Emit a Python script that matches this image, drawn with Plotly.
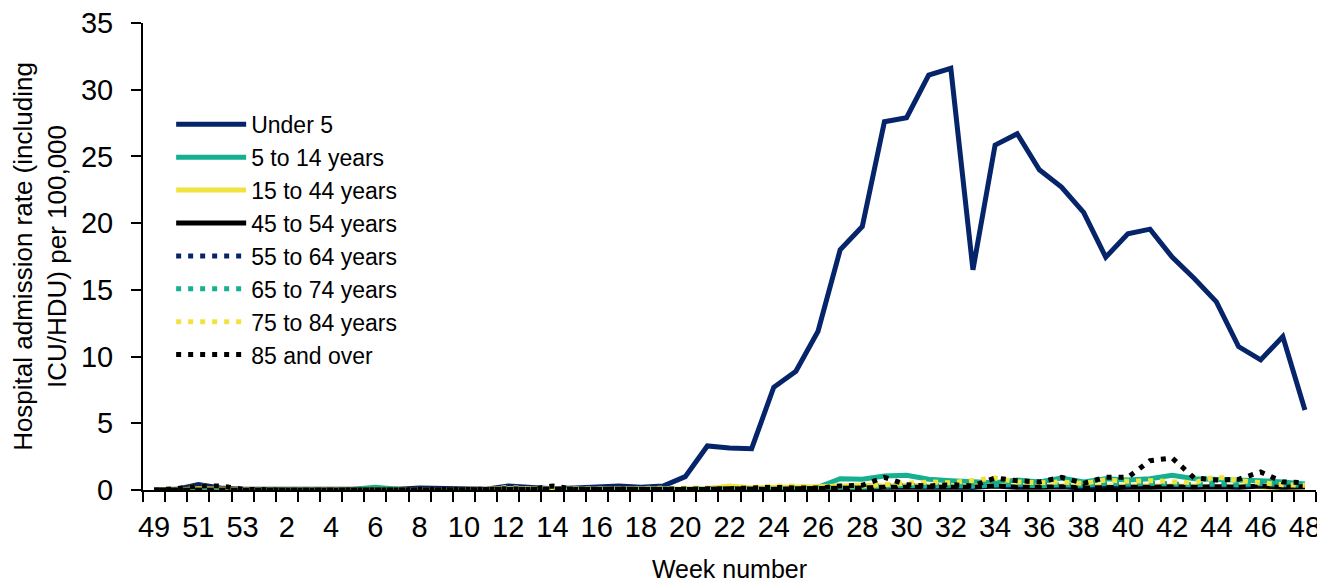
import plotly.graph_objects as go

weeks = ["49", "50", "51", "52", "53", "1", "2", "3", "4", "5", "6", "7", "8", "9", "10",
         "11", "12", "13", "14", "15", "16", "17", "18", "19", "20",
         "21", "22", "23", "24", "25", "26", "27", "28", "29", "30",
         "31", "32", "33", "34", "35", "36", "37", "38", "39", "40",
         "41", "42", "43", "44", "45", "46", "47", "48"]

under_5 = [0.0, 0.05, 0.4, 0.15, 0.05,
           0.05, 0.05, 0.05, 0.05, 0.05, 0.05, 0.05, 0.15, 0.1, 0.05,
           0.05, 0.3, 0.2, 0.1, 0.15, 0.2, 0.3, 0.2, 0.3, 1.0,
           3.3, 3.15, 3.1, 7.7, 8.9, 11.9, 18.0, 19.75, 27.6, 27.9,
           31.1, 31.6, 16.5, 25.85, 26.7, 24.0, 22.7, 20.8, 17.45, 19.2,
           19.55, 17.45, 15.85, 14.1, 10.75, 9.75, 11.5, 6.0]

age_5_14 = [0.0, 0.0, 0.05, 0.05, 0.0,
            0.0, 0.0, 0.0, 0.0, 0.05, 0.2, 0.05, 0.0, 0.0, 0.0,
            0.0, 0.05, 0.05, 0.05, 0.05, 0.05, 0.05, 0.05, 0.05, 0.05,
            0.1, 0.2, 0.1, 0.1, 0.15, 0.2, 0.85, 0.8, 1.05, 1.1,
            0.8, 0.7, 0.6, 0.55, 0.75, 0.6, 0.9, 0.6, 0.85, 0.75,
            0.85, 1.1, 0.85, 0.8, 0.8, 0.7, 0.6, 0.45]

age_15_44 = [0.0, 0.0, 0.1, 0.05, 0.0,
             0.0, 0.0, 0.0, 0.0, 0.0, 0.0, 0.0, 0.0, 0.0, 0.05,
             0.05, 0.1, 0.05, 0.05, 0.05, 0.05, 0.05, 0.05, 0.05, 0.1,
             0.1, 0.3, 0.15, 0.2, 0.2, 0.25, 0.3, 0.35, 0.3, 0.35,
             0.3, 0.3, 0.3, 0.35, 0.3, 0.3, 0.35, 0.3, 0.3, 0.3,
             0.35, 0.3, 0.3, 0.25, 0.3, 0.25, 0.1, 0.05]

age_45_54 = [0.0, 0.0, 0.05, 0.05, 0.0,
             0.0, 0.0, 0.0, 0.0, 0.0, 0.0, 0.0, 0.0, 0.0, 0.0,
             0.0, 0.05, 0.0, 0.0, 0.0, 0.0, 0.05, 0.0, 0.0, 0.05,
             0.05, 0.1, 0.05, 0.05, 0.1, 0.1, 0.1, 0.15, 0.2, 0.2,
             0.2, 0.15, 0.2, 0.3, 0.2, 0.2, 0.25, 0.15, 0.2, 0.2,
             0.2, 0.25, 0.2, 0.25, 0.2, 0.3, 0.2, 0.25]

age_55_64 = [0.0, 0.0, 0.05, 0.05, 0.0,
             0.0, 0.0, 0.0, 0.0, 0.0, 0.0, 0.0, 0.0, 0.0, 0.0,
             0.0, 0.05, 0.05, 0.05, 0.0, 0.05, 0.05, 0.0, 0.05, 0.05,
             0.1, 0.05, 0.1, 0.1, 0.1, 0.15, 0.15, 0.2, 0.25, 0.3,
             0.25, 0.3, 0.2, 0.35, 0.3, 0.35, 0.3, 0.25, 0.4, 0.35,
             0.5, 0.4, 0.35, 0.4, 0.3, 0.4, 0.35, 0.3]

age_65_74 = [0.0, 0.0, 0.05, 0.05, 0.0,
             0.0, 0.0, 0.0, 0.0, 0.0, 0.1, 0.05, 0.0, 0.0, 0.0,
             0.0, 0.05, 0.05, 0.05, 0.05, 0.05, 0.05, 0.05, 0.05, 0.05,
             0.05, 0.1, 0.1, 0.15, 0.1, 0.15, 0.2, 0.2, 0.3, 0.35,
             0.3, 0.35, 0.3, 0.4, 0.45, 0.3, 0.4, 0.35, 0.5, 0.45,
             0.5, 0.45, 0.4, 0.45, 0.4, 0.5, 0.4, 0.35]

age_75_84 = [0.0, 0.05, 0.3, 0.25, 0.0,
             0.0, 0.0, 0.0, 0.0, 0.0, 0.0, 0.0, 0.0, 0.0, 0.0,
             0.05, 0.2, 0.1, 0.2, 0.1, 0.1, 0.1, 0.1, 0.1, 0.1,
             0.15, 0.2, 0.2, 0.3, 0.3, 0.2, 0.3, 0.3, 0.4, 0.5,
             0.6, 0.55, 0.75, 0.9, 0.6, 0.55, 0.6, 0.5, 0.75, 0.65,
             0.7, 0.6, 0.55, 1.0, 0.7, 0.55, 0.4, 0.35]

age_85_over = [0.0, 0.1, 0.3, 0.3, 0.05,
               0.0, 0.0, 0.0, 0.0, 0.0, 0.0, 0.0, 0.0, 0.0, 0.0,
               0.05, 0.1, 0.05, 0.3, 0.05, 0.05, 0.1, 0.05, 0.05, 0.1,
               0.1, 0.1, 0.15, 0.2, 0.15, 0.15, 0.3, 0.35, 0.95, 0.4,
               0.3, 0.4, 0.3, 0.9, 0.7, 0.6, 0.95, 0.5, 0.95, 0.95,
               2.2, 2.4, 0.9, 0.75, 0.8, 1.35, 0.6, 0.55]

series_names = ["Under 5", "5 to 14 years", "15 to 44 years", "45 to 54 years",
                "55 to 64 years", "65 to 74 years", "75 to 84 years", "85 and over"]
series_values = [under_5, age_5_14, age_15_44, age_45_54,
                 age_55_64, age_65_74, age_75_84, age_85_over]

NAVY = "#06246A"
TEAL = "#14B08F"
YELLOW = "#F1E33F"
BLACK = "#000000"
colors = [NAVY, TEAL, YELLOW, BLACK, NAVY, TEAL, YELLOW, BLACK]
dashes = ["solid"] * 4 + ["5px,7px"] * 4
widths = [5, 5, 5, 5, 5, 5, 5, 5]

FONT = "Arial, 'Liberation Sans', sans-serif"

fig = go.Figure()
for name, vals, c, d, w in zip(series_names, series_values, colors, dashes, widths):
    fig.add_trace(go.Scatter(x=weeks, y=vals, mode="lines", name=name,
                             line=dict(color=c, width=w, dash=d)))

ticktext = [w if i % 2 == 0 else "" for i, w in enumerate(weeks)]

# The page body adds an 8px margin, so the figure is 8px smaller than the window.
fig.update_layout(
    template="none",
    width=1317, height=575,
    margin=dict(l=135, r=9, t=15, b=93, autoexpand=False),
    paper_bgcolor="white", plot_bgcolor="white",
    font=dict(family=FONT, color="black", size=26),
    showlegend=True,
    legend=dict(x=0.024, y=0.829, xanchor="left", yanchor="top",
                font=dict(size=23, color="black"), bgcolor="rgba(0,0,0,0)",
                itemwidth=70, tracegroupgap=0, borderwidth=0),
    xaxis=dict(type="category", tickmode="array", tickvals=weeks, ticktext=ticktext,
               range=[-0.5, len(weeks) - 0.5],
               tickson="boundaries", ticks="outside", ticklen=10, tickwidth=2,
               tickcolor="black", showline=True, linecolor="black", linewidth=2,
               showgrid=False, zeroline=False, tickangle=0, automargin=False,
               ticklabelstandoff=10, ticklabeloverflow="allow", tickfont=dict(size=29),
               title=dict(text="Week number", font=dict(size=25), standoff=21)),
    yaxis=dict(range=[0, 35], dtick=5, tick0=0, ticks="outside", ticklen=10, tickwidth=2,
               tickcolor="black", showline=True, linecolor="black", linewidth=2,
               showgrid=False, zeroline=False, automargin=False,
               ticklabelstandoff=12, ticklabeloverflow="allow", tickfont=dict(size=29),
               title=dict(text="Hospital admission rate (including<br>ICU/HDU) per 100,000",
                          font=dict(size=26), standoff=10)),
)

fig.write_html("out.html")
